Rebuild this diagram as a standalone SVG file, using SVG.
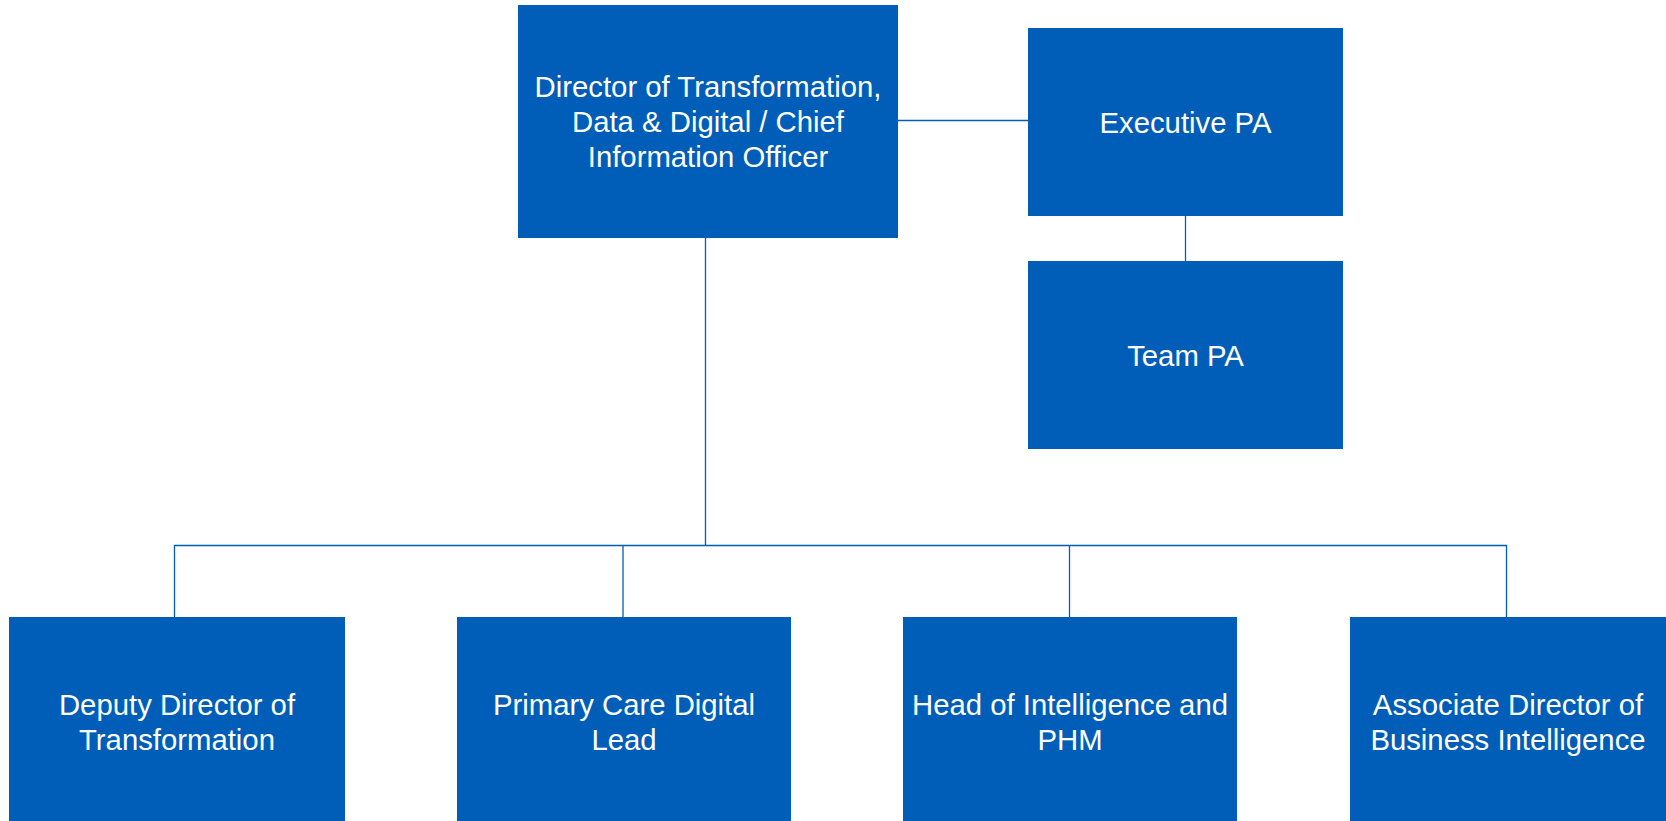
<svg xmlns="http://www.w3.org/2000/svg" width="1666" height="821" viewBox="0 0 1666 821">
<style>
.box{fill:#005EB8}
.lbl{fill:#FFFFFF;font-family:"Liberation Sans",Arial,sans-serif;font-size:29.3px;text-anchor:middle}
.ln{stroke:#005EB8;stroke-width:1.3;fill:none}
</style>
<rect width="1666" height="821" fill="#FFFFFF"/>
<g id="connectors">
<line class="ln" x1="898" y1="120.5" x2="1028" y2="120.5"/>
<line class="ln" x1="1185.5" y1="216" x2="1185.5" y2="261"/>
<line class="ln" x1="705.5" y1="238" x2="705.5" y2="545"/>
<polyline class="ln" points="174.5,617 174.5,545.5 1506.5,545.5 1506.5,617"/>
<line class="ln" x1="623" y1="545" x2="623" y2="617"/>
<line class="ln" x1="1069.5" y1="545" x2="1069.5" y2="617"/>
</g>
<g id="director">
<rect class="box" x="518" y="5" width="380" height="233"/>
<text class="lbl" x="708" y="97">Director of Transformation,</text>
<text class="lbl" x="708" y="132">Data &amp; Digital / Chief</text>
<text class="lbl" x="708" y="167">Information Officer</text>
</g>
<g id="exec-pa">
<rect class="box" x="1028" y="28" width="315" height="188"/>
<text class="lbl" x="1185.5" y="133">Executive PA</text>
</g>
<g id="team-pa">
<rect class="box" x="1028" y="261" width="315" height="188"/>
<text class="lbl" x="1185.5" y="366">Team PA</text>
</g>
<g id="deputy">
<rect class="box" x="9" y="617" width="336" height="210"/>
<text class="lbl" x="177" y="715">Deputy Director of</text>
<text class="lbl" x="177" y="750">Transformation</text>
</g>
<g id="primary-care">
<rect class="box" x="457" y="617" width="334" height="210"/>
<text class="lbl" x="624" y="715">Primary Care Digital</text>
<text class="lbl" x="624" y="750">Lead</text>
</g>
<g id="head-intel">
<rect class="box" x="903" y="617" width="334" height="210"/>
<text class="lbl" x="1070" y="715">Head of Intelligence and</text>
<text class="lbl" x="1070" y="750">PHM</text>
</g>
<g id="assoc-bi">
<rect class="box" x="1350" y="617" width="320" height="210"/>
<text class="lbl" x="1508" y="715">Associate Director of</text>
<text class="lbl" x="1508" y="750">Business Intelligence</text>
</g>
</svg>
